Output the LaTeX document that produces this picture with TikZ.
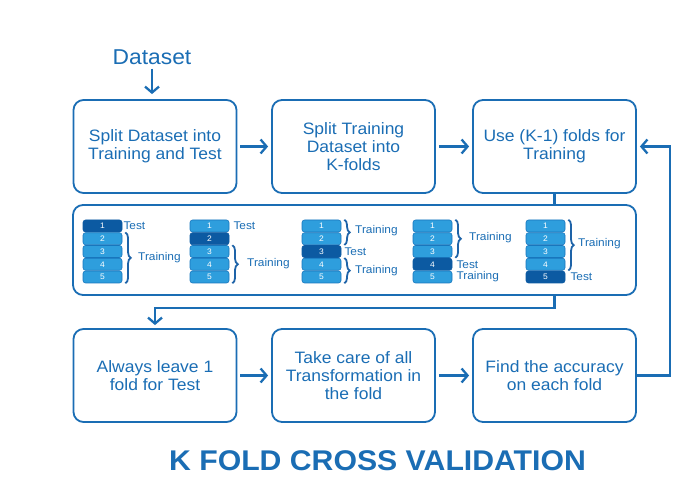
\documentclass[tikz,border=0pt]{standalone}
\usepackage{fontspec}
\setmainfont{Liberation Sans}[FakeStretch=1.06]
\usetikzlibrary{arrows.meta,decorations.pathreplacing,calc}
\definecolor{kblue}{HTML}{1A6DB4}
\definecolor{cellL}{HTML}{2E9EDD}
\definecolor{cellD}{HTML}{0C5AA2}
\definecolor{cellB}{HTML}{1876BD}
\definecolor{braceC}{HTML}{1E63A8}
\begin{document}
\begin{tikzpicture}[x=1pt,y=-1pt,
  box/.style={draw=kblue, line width=1.8pt, rounded corners=10pt, minimum width=163pt, minimum height=93pt, align=center, text=kblue, font=\fontsize{16.5}{18}\selectfont, inner sep=0pt},
  panel/.style={draw=kblue, line width=1.8pt, rounded corners=10pt, minimum width=563pt, minimum height=90pt, inner sep=0pt},
  conn/.style={draw=kblue, line width=2.3pt},
  arr/.style={conn, -{Straight Barb[length=6pt,width=14pt]}},
  cell/.style={draw=cellB, line width=0.6pt, fill=cellL, rounded corners=2.5pt, minimum width=39pt, minimum height=12pt, inner sep=0pt, text=white, font=\fontsize{8}{8}\selectfont},
  dcell/.style={cell, fill=cellD, draw=cellD},
  lab/.style={anchor=west, inner sep=0pt, text=kblue, font=\fontsize{11.2}{11}\selectfont},
  brace/.style={draw=braceC, line width=1.8pt, decorate, decoration={brace, amplitude=5.5pt}}
]
\useasboundingbox (0,0) rectangle (680,486);
% top row
\node[inner sep=0pt, text=kblue, font=\fontsize{21.5}{22}\selectfont] (ds) at (152,57) {Dataset};
\node[box] (b1) at (155,146.5) {Split Dataset into\\Training and Test};
\node[box] (b2) at (353.5,146.5) {Split Training\\Dataset into\\K-folds};
\node[box] (b3) at (554.5,146.5) {Use (K-1) folds for\\Training};
% middle panel
\node[panel] (pn) at (354.5,250) {};
% bottom row
\node[box] (b4) at (155,375.5) {Always leave 1\\fold for Test};
\node[box] (b5) at (353.5,375.5) {Take care of all\\Transformation in\\the fold};
\node[box] (b6) at (554.5,375.5) {Find the accuracy\\on each fold};
% title
\node[inner sep=0pt, text=kblue, font=\fontsize{28.5}{28}\bfseries\selectfont] (title) at (377.5,460.5) {K FOLD CROSS VALIDATION};
% connectors
\draw[arr, shorten <=4pt, shorten >=5pt] (ds.south) -- (ds.south |- b1.north);
\draw[arr, shorten <=3pt, shorten >=3pt] (b1.east) -- (b2.west);
\draw[arr, shorten <=3pt, shorten >=3pt] (b2.east) -- (b3.west);
\draw[arr, shorten <=3pt, shorten >=3pt] (b4.east) -- (b5.west);
\draw[arr, shorten <=3pt, shorten >=3pt] (b5.east) -- (b6.west);
\draw[conn] (b3.south) -- (b3.south |- pn.north);
\draw[arr, shorten >=3pt] (b3.south |- pn.south) -- ++(0,12) -| (b4.north);
\draw[arr, shorten >=3pt] (b6.east) -- ++(33,0) |- (b3.east);
% fold groups
\foreach \g/\x/\d in {1/102.5/1, 2/209.5/2, 3/321.5/3, 4/432.5/4, 5/545.5/5} {
  \foreach \i in {1,...,5} {
    \pgfmathsetmacro{\yy}{226+12.75*(\i-1)}
    \ifnum\i=\d
      \node[dcell] (g\g c\i) at (\x,\yy) {\i};
    \else
      \node[cell] (g\g c\i) at (\x,\yy) {\i};
    \fi
  }
}
% group 1
\node[lab] (t1) at ([xshift=1pt]g1c1.east) {Test};
\draw[brace] ([xshift=3pt]g1c2.north east) -- ([xshift=3pt]g1c5.south east);
\node[lab] (r1) at (138,257.5) {Training};
% group 2
\node[lab] (t2) at ([xshift=4pt]g2c1.east) {Test};
\draw[brace] ([xshift=3pt]g2c3.north east) -- ([xshift=3pt]g2c5.south east);
\node[lab] (r2) at (247,264) {Training};
% group 3
\draw[brace] ([xshift=3pt]g3c1.north east) -- ([xshift=3pt]g3c2.south east);
\node[lab] (r3a) at (355,231) {Training};
\node[lab] (t3) at ([xshift=3pt]g3c3.east) {Test};
\draw[brace] ([xshift=3pt]g3c4.north east) -- ([xshift=3pt]g3c5.south east);
\node[lab] (r3b) at (355,271) {Training};
% group 4
\draw[brace] ([xshift=3pt]g4c1.north east) -- ([xshift=3pt]g4c3.south east);
\node[lab] (r4a) at (469,238) {Training};
\node[lab] (t4) at ([xshift=4pt]g4c4.east) {Test};
\node[lab] (r4b) at ([xshift=4pt]g4c5.east) {Training};
% group 5
\draw[brace] ([xshift=3pt]g5c1.north east) -- ([xshift=3pt]g5c4.south east);
\node[lab] (r5) at (578,244) {Training};
\node[lab] (t5) at ([xshift=5pt]g5c5.east) {Test};
\end{tikzpicture}
\end{document}
